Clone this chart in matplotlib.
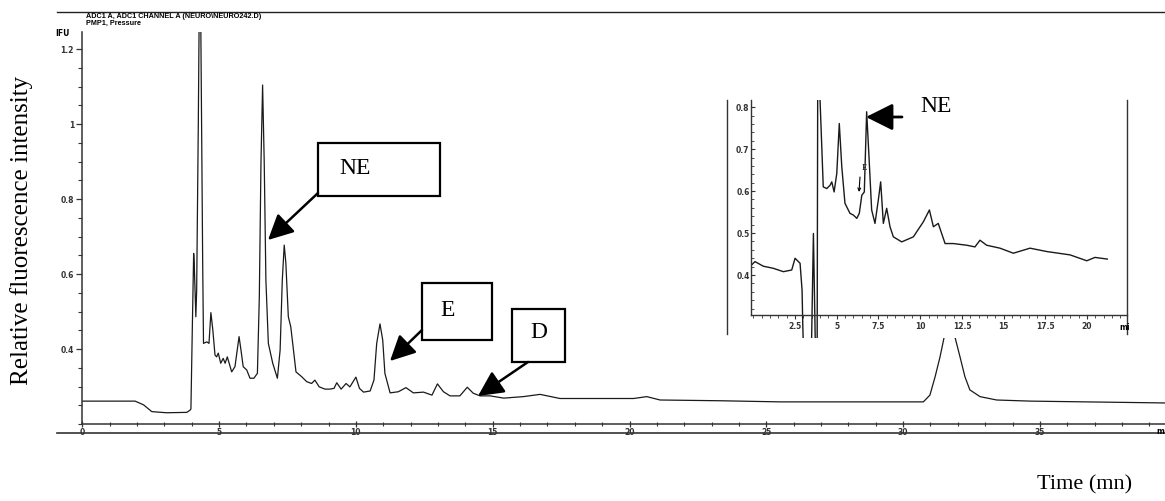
import matplotlib
matplotlib.use("Agg")
import matplotlib.pyplot as plt
from matplotlib.patches import Rectangle, FancyArrowPatch
from matplotlib.lines import Line2D
from matplotlib.ticker import MultipleLocator, FixedLocator

# MAIN CHROMATOGRAM (time in min, signal in FU)
main_time = [0.0, 1.93, 2.24, 2.54, 3.08, 3.82, 3.94, 3.97, 4.02, 4.07, 4.09, 4.15, 4.18,
             4.24, 4.30, 4.36, 4.40, 4.43, 4.55, 4.63, 4.70, 4.77, 4.85, 4.91, 4.97, 5.06,
             5.15, 5.22, 5.30, 5.46, 5.58, 5.73, 5.80, 5.88, 6.01, 6.13, 6.27, 6.40, 6.47,
             6.53, 6.59, 6.65, 6.71, 6.80, 6.96, 7.13, 7.23, 7.31, 7.38, 7.44, 7.53, 7.62,
             7.69, 7.81, 8.02, 8.20, 8.38, 8.50, 8.66, 8.87, 9.05, 9.20, 9.30, 9.46, 9.64,
             9.78, 10.00, 10.13, 10.28, 10.52, 10.66, 10.76, 10.88, 10.98, 11.06, 11.25,
             11.55, 11.83, 12.10, 12.47, 12.78, 12.98, 13.20, 13.44, 13.80, 14.07, 14.29,
             14.54, 14.91, 15.40, 16.12, 16.73, 17.46, 17.82, 20.15, 20.63, 21.12, 23.31,
             25.5, 30.74, 30.98, 31.17, 31.35, 31.53, 31.72, 31.86, 32.08, 32.26, 32.44,
             32.81, 33.42, 34.66, 39.7]
main_signal = [0.261, 0.261, 0.251, 0.233, 0.230, 0.231, 0.237, 0.240, 0.451, 0.655, 0.629, 0.486, 0.557,
               1.0, 1.55, 1.0, 0.629, 0.415, 0.419, 0.415, 0.497, 0.451, 0.384, 0.379, 0.389, 0.362,
               0.375, 0.362, 0.379, 0.339, 0.353, 0.433, 0.397, 0.353, 0.344, 0.322, 0.322, 0.335, 0.539,
               0.895, 1.104, 0.895, 0.584, 0.415, 0.362, 0.322, 0.397, 0.584, 0.677, 0.629, 0.486, 0.459,
               0.415, 0.339, 0.326, 0.313, 0.308, 0.317, 0.299, 0.293, 0.293, 0.295, 0.310, 0.293, 0.308,
               0.299, 0.325, 0.295, 0.285, 0.288, 0.317, 0.415, 0.467, 0.424, 0.335, 0.283,
               0.286, 0.297, 0.283, 0.285, 0.277, 0.307, 0.286, 0.275, 0.275, 0.298, 0.282,
               0.275, 0.275, 0.269, 0.273, 0.279, 0.268, 0.268, 0.268, 0.273, 0.264, 0.262,
               0.259, 0.259, 0.277, 0.326, 0.379, 0.442, 0.95, 0.442, 0.379, 0.326, 0.291,
               0.273, 0.264, 0.261, 0.256]

# INSET CHROMATOGRAM
inset_time = [-0.16, 0.10, 0.60, 1.20, 1.80, 2.30, 2.50, 2.80, 2.92, 2.96, 3.05, 3.45, 3.60,
              3.75, 3.82, 3.86, 3.92, 4.19, 4.40, 4.60, 4.70, 4.84, 5.00, 5.15, 5.30, 5.49,
              5.79, 5.99, 6.20, 6.35, 6.50, 6.65, 6.79, 6.93, 7.09, 7.29, 7.49, 7.63, 7.79,
              7.99, 8.19, 8.39, 8.89, 9.59, 10.19, 10.55, 10.79, 11.08, 11.49, 11.98, 12.79,
              13.28, 13.58, 13.98, 14.78, 15.58, 16.58, 17.58, 18.98, 19.98, 20.47, 21.21]
inset_signal = [0.422, 0.432, 0.421, 0.416, 0.408, 0.412, 0.440, 0.428, 0.364, 0.286, 0.150, 0.150, 0.499,
                0.150, 0.150, 0.90, 0.90, 0.610, 0.606, 0.614, 0.622, 0.598, 0.642, 0.761, 0.658, 0.571,
                0.547, 0.543, 0.535, 0.547, 0.590, 0.598, 0.789, 0.682, 0.555, 0.523, 0.579, 0.622, 0.523,
                0.559, 0.515, 0.491, 0.479, 0.491, 0.527, 0.555, 0.515, 0.523, 0.475, 0.475, 0.471,
                0.467, 0.483, 0.471, 0.464, 0.452, 0.464, 0.456, 0.448, 0.434, 0.442, 0.438]

main_yticks = [0.4, 0.6, 0.8, 1.0, 1.2]
main_ytick_labels = ["0.4", "0.6", "0.8", "1", "1.2"]
main_xticks = [0, 5, 10, 15, 20, 25, 30, 35]
inset_xticks = [2.5, 5, 7.5, 10, 12.5, 15, 17.5, 20]
inset_xtick_labels = ["2.5", "5", "7.5", "10", "12.5", "15", "17.5", "20"]
inset_yticks = [0.4, 0.5, 0.6, 0.7, 0.8]
inset_yminor = [0.32, 0.34, 0.36, 0.38, 0.42, 0.44, 0.46, 0.48, 0.52, 0.54, 0.56, 0.58,
                0.62, 0.64, 0.66, 0.68, 0.72, 0.74, 0.76, 0.78]

W, H = 1165, 501
def fx(px):
    return px / W
def fy(py):
    return 1 - py / H

serif = "Liberation Serif"
tickfont = {"family": "DejaVu Sans", "weight": "bold", "size": 5.5}

fig = plt.figure(figsize=(W / 100, H / 100), dpi=100)

#MAIN AXES
ax = fig.add_axes([fx(82.3), fy(424), fx(W) - fx(82.3), fy(32) - fy(424)])
ax.plot(main_time, main_signal, color="#1a1a1a", lw=0.9)
ax.set_xlim(0, (W - 82.3) / 27.36)
ax.set_ylim(0.2, 1.2 + 17 / 375)
for s in ["top", "right"]:
    ax.spines[s].set_visible(False)
for s in ["left", "bottom"]:
    ax.spines[s].set_linewidth(1.1)
    ax.spines[s].set_color("#333333")
ax.yaxis.set_major_locator(FixedLocator(main_yticks))
ax.set_yticklabels(main_ytick_labels, fontdict=tickfont)
ax.yaxis.set_minor_locator(MultipleLocator(0.05))
ax.xaxis.set_major_locator(FixedLocator(main_xticks))
ax.set_xticklabels([str(t) for t in main_xticks], fontdict=tickfont)
ax.xaxis.set_minor_locator(MultipleLocator(1))
ax.tick_params(axis="y", which="major", direction="out", length=4, width=0.9, pad=2, colors="#333333")
ax.tick_params(axis="y", which="minor", direction="out", length=3, width=0.8, colors="#333333")
ax.tick_params(axis="x", which="major", direction="inout", length=4, width=0.9, pad=1, colors="#333333")
ax.tick_params(axis="x", which="minor", direction="inout", length=3, width=0.8, colors="#333333")
fig.text(fx(W - 1), fy(431), "m", ha="right", va="center", **tickfont)

#INSET AXES
ins = fig.add_axes([fx(751), fy(338), fx(1127) - fx(751), fy(100) - fy(338)])
ins.set_facecolor("white")
ins.plot(inset_time, inset_signal, color="#1a1a1a", lw=1.0)
ins.set_xlim(-0.14, (1127 - 753.3) / 16.69)
ins.set_ylim(0.25, 0.817)
ins.spines["top"].set_visible(False)
ins.spines["right"].set_visible(False)
ins.spines["bottom"].set_position(("data", 0.305))
ins.spines["left"].set_bounds(0.305, 0.817)
for s in ["left", "bottom"]:
    ins.spines[s].set_linewidth(1.0)
    ins.spines[s].set_color("#333333")
ins.xaxis.set_major_locator(FixedLocator(inset_xticks))
ins.set_xticklabels(inset_xtick_labels, fontdict=tickfont)
ins.xaxis.set_minor_locator(MultipleLocator(0.5))
ins.yaxis.set_major_locator(FixedLocator(inset_yticks))
ins.set_yticklabels(["0.4", "0.5", "0.6", "0.7", "0.8"], fontdict=tickfont)
ins.yaxis.set_minor_locator(FixedLocator(inset_yminor))
ins.tick_params(axis="x", which="major", direction="out", length=3, width=0.8, pad=2, colors="#333333")
ins.tick_params(axis="x", which="minor", direction="out", length=2, width=0.6, colors="#333333")
ins.tick_params(axis="y", which="major", direction="in", length=3, width=0.8, pad=1, colors="#333333")
ins.tick_params(axis="y", which="minor", direction="in", length=2, width=0.6, colors="#333333")
fig.text(fx(1125), fy(328), "mi", ha="center", va="center", **tickfont)

# frame lines around the inset and across the page
for x0 in [727, 1127]:
    fig.add_artist(Line2D([fx(x0), fx(x0)], [fy(100), fy(334)], color="#333333", lw=1.0))
fig.add_artist(Line2D([fx(57), fx(W)], [fy(12), fy(12)], color="#222222", lw=1.0))
fig.add_artist(Line2D([fx(57), fx(W)], [fy(433), fy(433)], color="#333333", lw=1.2))

#HEADER TEXT
hdr = {"family": "Liberation Sans", "weight": "bold", "size": 5.2}
fig.text(fx(86), fy(16.5), "ADC1 A, ADC1 CHANNEL A (NEURO\\NEURO242.D)", va="center", **hdr)
fig.text(fx(86), fy(23.5), "PMP1, Pressure", va="center", **hdr)
fig.text(fx(55), fy(33.5), "IFU", va="center", **tickfont)

#AXIS TITLES
fig.text(fx(22), fy(230), "Relative fluorescence intensity", rotation=90, ha="center", va="center",
         family=serif, size=18)
fig.text(fx(1085), fy(485), "Time (mn)", ha="center", va="center", family=serif, size=16)

#PEAK LABELS
def box_label(x0, y0, x1, y1, text, tx, ty):
    fig.add_artist(Rectangle((fx(x0), fy(y1)), fx(x1) - fx(x0), fy(y0) - fy(y1), fill=False,
                             lw=1.6, edgecolor="black", transform=fig.transFigure))
    fig.text(fx(tx), fy(ty), text, ha="center", va="center", family=serif, size=17)

def arrow(x0, y0, x1, y1, scale=14, lw=1.8, style="-|>,head_length=1.1,head_width=0.55"):
    fig.add_artist(FancyArrowPatch((fx(x0), fy(y0)), (fx(x1), fy(y1)), transform=fig.transFigure,
                                   arrowstyle=style, mutation_scale=scale, lw=lw, color="black",
                                   shrinkA=0, shrinkB=0))

box_label(318, 143, 440, 196, "NE", 355, 168)
arrow(318, 193, 268, 240)
box_label(422, 283, 492, 340, "E", 448, 310)
arrow(422, 330, 390, 361)
box_label(512, 309, 565, 362, "D", 539, 333)
arrow(528, 362, 478, 396)

# inset labels
fig.text(fx(936), fy(107), "NE", ha="center", va="center", family=serif, size=17)
arrow(902, 117, 866, 117, scale=15, lw=2.0)
fig.text(fx(864), fy(168), "E", ha="center", va="center", family=serif, size=6)
arrow(860, 177, 859, 192, scale=5, lw=0.8, style="->")

plt.savefig("out.png", dpi=100)
